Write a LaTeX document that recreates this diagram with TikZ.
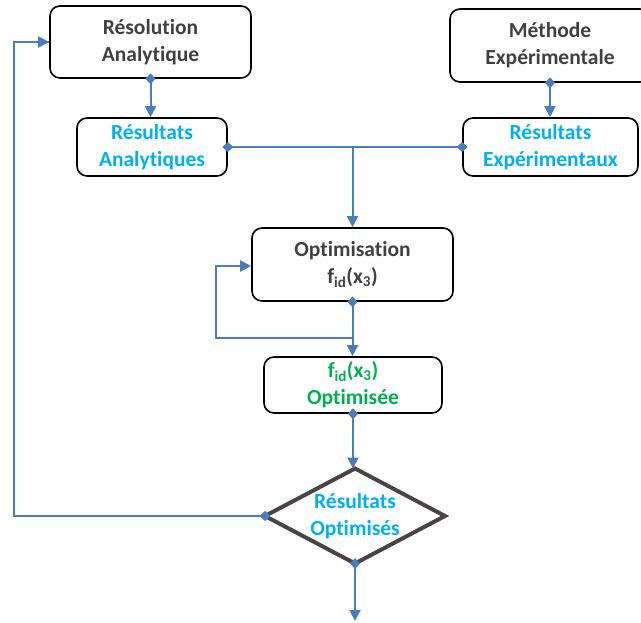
\documentclass[tikz,border=0pt]{standalone}
\usepackage{fontspec}
\setmainfont{Carlito}[Ligatures=NoCommon]
\usetikzlibrary{arrows.meta,shapes.geometric,calc}
\definecolor{lineblue}{HTML}{4A7EBB}
\definecolor{txtblue}{HTML}{00B0F0}
\definecolor{txtgreen}{HTML}{00B050}
\definecolor{txtgray}{HTML}{404040}
\definecolor{diagray}{HTML}{4A4444}
\tikzset{
  box/.style={draw=black, line width=1.6pt, rounded corners=10pt, align=center,
    font=\bfseries\fontsize{21.5}{27}\selectfont, inner sep=0pt},
  conn/.style={draw=lineblue, line width=2pt},
  arr/.style={conn, -{Triangle[length=11pt,width=11pt]}},
  darr/.style={conn, {Diamond[length=11pt,width=10pt]}-{Triangle[length=11pt,width=11pt]}, shorten <=-5.5pt},
  dline/.style={conn, {Diamond[length=11pt,width=10pt]}-{Diamond[length=11pt,width=10pt]}, shorten <=-5.5pt, shorten >=-5.5pt},
  dstart/.style={conn, {Diamond[length=11pt,width=10pt]}-, shorten <=-5.5pt},
}
\begin{document}
\begin{tikzpicture}[x=1pt,y=-1pt]
\useasboundingbox (0,0) rectangle (641,623);
\clip (0,0) rectangle (641,623);
\node[box, text=txtgray, minimum width=201pt, minimum height=72pt] (res) at (150.5,42) {Résolution\\Analytique};
\node[box, text=txtgray, minimum width=200pt, minimum height=73pt] (met) at (550,45.5) {Méthode\\Expérimentale};
\node[box, text=txtblue, minimum width=150pt, minimum height=58pt] (ra) at (152,147) {Résultats\\Analytiques};
\node[box, text=txtblue, minimum width=175pt, minimum height=58pt] (re) at (550.5,147) {Résultats\\Expérimentaux};
\node[box, text=txtgray, minimum width=201pt, minimum height=73pt] (opt) at (352.5,264.5) {Optimisation\\f\textsubscript{id}(x\textsubscript{3})};
\node[box, text=txtgreen, minimum width=178pt, minimum height=56pt] (fo) at (353,385) {f\textsubscript{id}(x\textsubscript{3})\\Optimisée};
\node[diamond, draw=diagray, line width=4pt, minimum width=180pt, minimum height=95pt, inner sep=0pt, outer sep=0pt, aspect=1.9] (dec) at (355,516) {};
\node[text=txtblue, align=center, font=\bfseries\fontsize{21.5}{27}\selectfont, inner sep=0pt] (dect) at (dec.center) {Résultats\\Optimisés};
\coordinate (jtop) at (opt.north |- ra.east);
\coordinate (jloop) at ($(opt.south)+(0,36)$);
\coordinate (lloop) at (216,0);
\coordinate (lout) at (14,0);
\coordinate (endpt) at (dec.south |- 0,621);
% connectors
\draw[darr] (res.south) -- (res.south |- ra.north);
\draw[darr] (met.south) -- (met.south |- re.north);
\draw[dline] (ra.east) -- (re.west);
\draw[arr] (jtop) -- (opt.north);
\draw[darr] (opt.south) -- (opt.south |- fo.north);
\draw[arr] (jloop) -- (lloop |- jloop) |- ($(opt.west)+(0,1.5)$);
\draw[darr] (fo.south) -- (fo.south |- dec.north);
\draw[darr] (dec.south) -- (endpt);
\draw[dstart] (dec.west) -- (lout |- dec.west) |- (res.west);
\draw[arr] (lout |- res.west) -- (res.west);
\end{tikzpicture}
\end{document}
